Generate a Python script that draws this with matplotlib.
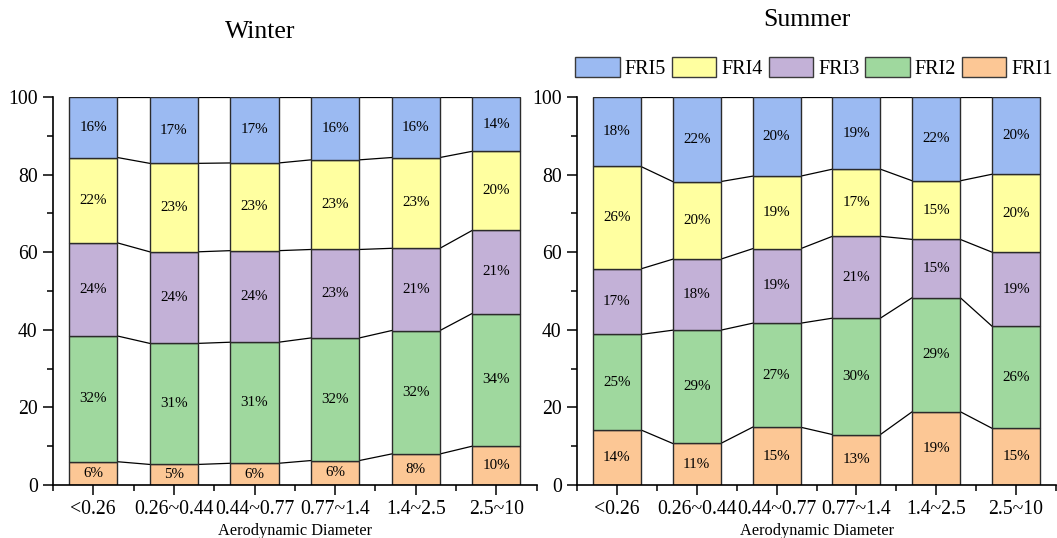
import matplotlib
matplotlib.use("Agg")
import matplotlib.pyplot as plt
import numpy as np
from matplotlib.ticker import MultipleLocator, FixedLocator
from matplotlib.patches import Patch

plt.rcParams["font.family"] = ["Liberation Serif", "DejaVu Serif"]

categories = ["<0.26", "0.26~0.44", "0.44~0.77", "0.77~1.4", "1.4~2.5", "2.5~10"]
series_names = ["FRI1", "FRI2", "FRI3", "FRI4", "FRI5"]
series_colors = ["#fcc795", "#9fd89e", "#c3b1d7", "#ffffa0", "#9bbaf2"]

winter_fri1 = [6.0, 5.3, 5.6, 6.3, 8.0, 10.0]
winter_fri2 = [32.4, 31.2, 31.2, 31.6, 31.8, 34.2]
winter_fri3 = [24.0, 23.6, 23.6, 22.8, 21.2, 21.4]
winter_fri4 = [22.0, 22.8, 22.6, 23.1, 23.4, 20.4]
winter_fri5 = [15.6, 17.1, 17.0, 16.2, 15.6, 14.0]

summer_fri1 = [14.2, 10.7, 14.9, 13.0, 18.9, 14.6]
summer_fri2 = [24.6, 29.2, 26.8, 30.0, 29.4, 26.3]
summer_fri3 = [16.9, 18.3, 19.2, 21.1, 15.0, 19.1]
summer_fri4 = [26.4, 20.0, 18.7, 17.3, 15.1, 20.1]
summer_fri5 = [17.9, 21.8, 20.4, 18.6, 21.6, 19.9]

winter = [winter_fri1, winter_fri2, winter_fri3, winter_fri4, winter_fri5]
summer = [summer_fri1, summer_fri2, summer_fri3, summer_fri4, summer_fri5]

fig = plt.figure(figsize=(10.57, 5.38), dpi=100)
W, H = 1057.0, 538.0
ax1 = fig.add_axes([53 / W, 53 / H, 483.6 / W, 388 / H])
ax2 = fig.add_axes([577 / W, 53 / H, 479 / W, 388 / H])

bar_w = 0.6
x = np.arange(len(categories))


def draw(ax, data):
    bottom = np.zeros(len(categories))
    for vals, col in zip(data, series_colors):
        vals = np.array(vals)
        ax.bar(x, vals, bar_w, bottom=bottom, color=col, edgecolor="#2b2b2b",
               linewidth=1.0, zorder=2)
        for xi, b, v in zip(x, bottom, vals):
            ax.text(xi, b + v / 2, f"{v:.0f}%", ha="center", va="center",
                    fontsize=10.8, zorder=3)
        top = bottom + vals
        for i in range(len(categories) - 1):
            ax.plot([x[i] + bar_w / 2, x[i + 1] - bar_w / 2], [top[i], top[i + 1]],
                    color="black", linewidth=0.9, zorder=1)
        bottom = top
    ax.set_xlim(-0.5, len(categories) - 0.5)
    ax.set_ylim(0, 100)
    ax.set_xticks(x)
    ax.set_xticklabels(categories)
    ax.xaxis.set_minor_locator(FixedLocator(np.arange(-0.5, len(categories), 1.0)))
    ax.yaxis.set_major_locator(MultipleLocator(20))
    ax.yaxis.set_minor_locator(MultipleLocator(10))
    ax.tick_params(axis="both", which="major", direction="out", length=7, width=1.1,
                   labelsize=14.2, pad=4)
    ax.tick_params(axis="both", which="minor", direction="out", length=4, width=1.1)
    for s in ["top", "right"]:
        ax.spines[s].set_visible(False)
    for s in ["left", "bottom"]:
        ax.spines[s].set_linewidth(1.2)
    ax.set_xlabel("Aerodynamic Diameter", fontsize=11.8, labelpad=3)


draw(ax1, winter)
draw(ax2, summer)

fig.text(260 / W, 1 - 32 / H, "Winter", fontsize=18.5, ha="center", va="center")
fig.text(807 / W, 1 - 20 / H, "Summer", fontsize=18.5, ha="center", va="center")

handles = [Patch(facecolor=c, edgecolor="#3a3a3a", linewidth=1.0)
           for c in series_colors[::-1]]
fig.legend(handles, series_names[::-1], loc="center", bbox_to_anchor=(814 / W, 1 - 68 / H),
           ncol=5, frameon=False, fontsize=14.5, handlelength=2.2, handleheight=1.1,
           handletextpad=0.25, columnspacing=0.3, borderpad=0, borderaxespad=0)

fig.savefig("out.png", dpi=100)
